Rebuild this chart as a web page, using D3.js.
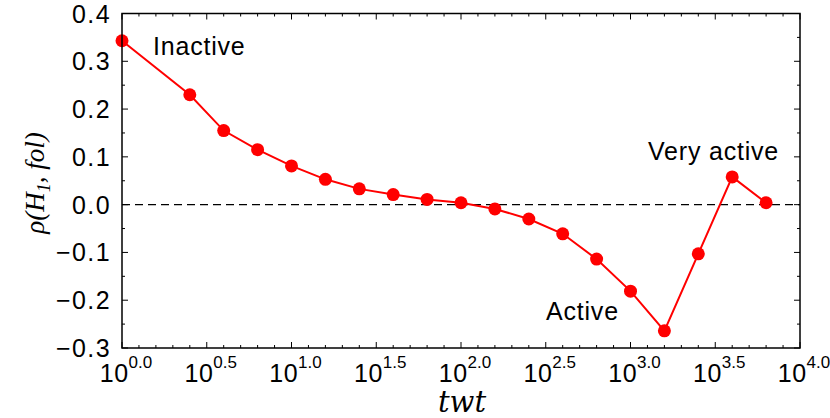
<!DOCTYPE html>
<html>
<head>
<meta charset="utf-8">
<script src="https://cdn.jsdelivr.net/npm/d3@7"></script>
<style>
  body { margin: 0; background: #fff; }
  svg text { font-family: "Liberation Sans", Arial, Helvetica, sans-serif; }
</style>
</head>
<body>
<svg id="svg" width="830" height="418"></svg>
<script>
// ---- data
var twtExp = [0.0, 0.4, 0.6, 0.8, 1.0, 1.2, 1.4, 1.6, 1.8, 2.0, 2.2, 2.4, 2.6, 2.8, 3.0, 3.2, 3.4, 3.6, 3.8];
var rho    = [0.343, 0.230, 0.155, 0.115, 0.081, 0.053, 0.033, 0.021, 0.011, 0.004,
              -0.009, -0.030, -0.061, -0.114, -0.181, -0.264, -0.103, 0.058, 0.004];
var xTickExp = ["0.0", "0.5", "1.0", "1.5", "2.0", "2.5", "3.0", "3.5", "4.0"];
var yTicks = [0.4, 0.3, 0.2, 0.1, 0.0, -0.1, -0.2, -0.3];
var notes = [
  { text: "Inactive",    tx: 153, ty: 55 },
  { text: "Very active", tx: 648, ty: 160 },
  { text: "Active",      tx: 546, ty: 320 }
];

var L = 122, R = 800, T = 13.5, B = 348;
var svg = d3.select("svg#svg");

var x = d3.scaleLog().domain([1, 1e4]).range([L, R]);
var y = d3.scaleLinear().domain([-0.3, 0.4]).range([B, T]);

var pts = twtExp.map(function(e, i) { return { twt: Math.pow(10, e), v: rho[i] }; });

// - ticks (inward, all four sides)
var g = svg.append("g");
var minorX = d3.range(0, 41).map(function(k) { return k / 10; });
minorX.forEach(function(e) {
  var major = Math.abs(e * 2 - Math.round(e * 2)) < 1e-9;
  var len = major ? 6 : 3;
  var px = x(Math.pow(10, e));
  g.append("line").attr("x1", px).attr("x2", px).attr("y1", B).attr("y2", B - len)
    .attr("stroke", "#000").attr("stroke-width", 1);
  g.append("line").attr("x1", px).attr("x2", px).attr("y1", T).attr("y2", T + len)
    .attr("stroke", "#000").attr("stroke-width", 1);
});
d3.range(-6, 9).forEach(function(k) {
  var v = k * 0.05;
  var major = (k % 2 === 0);
  var len = major ? 6 : 3;
  var py = y(v);
  g.append("line").attr("x1", L).attr("x2", L + len).attr("y1", py).attr("y2", py)
    .attr("stroke", "#000").attr("stroke-width", 1);
  g.append("line").attr("x1", R).attr("x2", R - len).attr("y1", py).attr("y2", py)
    .attr("stroke", "#000").attr("stroke-width", 1);
});

// - zero line
svg.append("line")
  .attr("x1", L).attr("x2", R).attr("y1", y(0)).attr("y2", y(0))
  .attr("stroke", "#000").attr("stroke-width", 1.3)
  .attr("stroke-dasharray", "8,5");

// - series
svg.append("path").datum(pts)
  .attr("fill", "none").attr("stroke", "#ff0000").attr("stroke-width", 2)
  .attr("d", d3.line().x(function(d) { return x(d.twt); }).y(function(d) { return y(d.v); }));

svg.selectAll("circle.pt").data(pts).enter()
  .append("circle").attr("class", "pt")
  .attr("cx", function(d) { return x(d.twt); })
  .attr("cy", function(d) { return y(d.v); })
  .attr("r", 6.5)
  .attr("fill", "#ff0000");

// - frame
svg.append("rect").attr("x", L).attr("y", T).attr("width", R - L).attr("height", B - T)
  .attr("fill", "none").attr("stroke", "#000").attr("stroke-width", 1.5);

// - y tick labels
svg.selectAll("text.yt").data(yTicks).enter()
  .append("text").attr("class", "yt")
  .attr("x", 111).attr("y", function(d) { return y(d); })
  .attr("dy", "0.36em")
  .attr("text-anchor", "end")
  .style("font-size", "25px")
  .style("letter-spacing", "1.4px")
  .text(function(d) { return (d < 0 ? "\u2212" : "") + Math.abs(d).toFixed(1); });

// - x tick labels 10^e
xTickExp.forEach(function(s) {
  var t = svg.append("text")
    .attr("x", x(Math.pow(10, +s)) + 4).attr("y", 382)
    .attr("text-anchor", "middle")
    .style("font-size", "25px");
  t.append("tspan").style("letter-spacing", "0.5px").text("10");
  t.append("tspan").attr("dy", -14).style("font-size", "17px").text(s);
});

// - annotations
svg.selectAll("text.note").data(notes).enter()
  .append("text").attr("class", "note")
  .attr("x", function(d) { return d.tx; }).attr("y", function(d) { return d.ty; })
  .style("font-size", "25px")
  .style("letter-spacing", "0.8px")
  .text(function(d) { return d.text; });

// - axis titles
svg.append("text")
  .attr("x", 462).attr("y", 412)
  .attr("text-anchor", "middle")
  .style("font-family", "'DejaVu Serif', 'Liberation Serif', serif")
  .style("font-style", "italic")
  .style("font-size", "29px")
  .text("twt");

var yl = svg.append("text")
  .attr("transform", "translate(44,183) rotate(-90)")
  .attr("text-anchor", "middle")
  .style("font-family", "'Liberation Serif', 'DejaVu Serif', serif")
  .style("font-style", "italic")
  .style("font-size", "27px");
yl.append("tspan").text("\u03c1(H");
yl.append("tspan").attr("dy", 6).style("font-size", "18px").text("1");
yl.append("tspan").attr("dy", -6).text(", fol)");
</script>
</body>
</html>
